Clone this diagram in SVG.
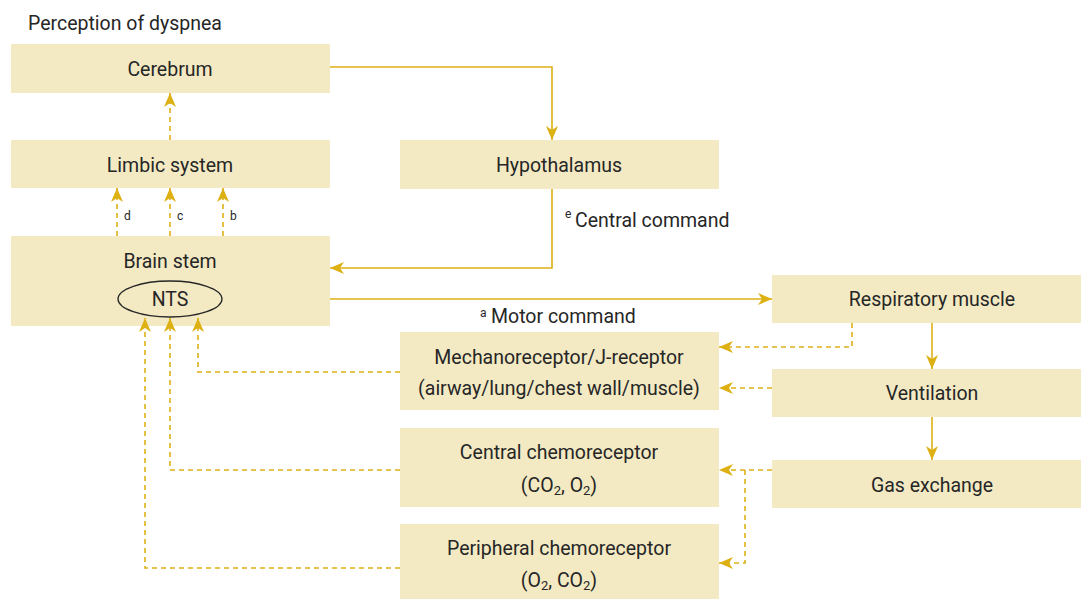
<svg xmlns="http://www.w3.org/2000/svg" width="1081" height="599" viewBox="0 0 1081 599">
<style>
.box{fill:#F3EAC4;}
.t{font-family:Roboto,"Liberation Sans",sans-serif;font-size:19.5px;fill:#262626;text-anchor:middle;}
.lab{font-family:Roboto,"Liberation Sans",sans-serif;font-size:19.5px;fill:#262626;}
.sup{font-family:Roboto,"Liberation Sans",sans-serif;font-size:12px;fill:#262626;}
.sm{font-family:Roboto,"Liberation Sans",sans-serif;font-size:12px;fill:#262626;}
.ln{fill:none;stroke:#DDB014;stroke-width:1.6;marker-end:url(#ah);}
.dl{fill:none;stroke:#DDB014;stroke-width:1.6;stroke-dasharray:5 4;marker-end:url(#ah);}
</style>
<defs>
<marker id="ah" markerUnits="userSpaceOnUse" viewBox="0 0 14 12" refX="14" refY="6" markerWidth="14" markerHeight="12" orient="auto">
<path d="M0,0 L14,6 L0,12 L4,6 Z" fill="#DDB014"/>
</marker>
</defs>
<text class="lab" x="28" y="30" font-size="18.2">Perception of dyspnea</text>
<g id="cerebrum"><rect class="box" x="11" y="44" width="319" height="49"/><text class="t" x="170" y="76">Cerebrum</text></g>
<g id="limbic"><rect class="box" x="11" y="140" width="319" height="48"/><text class="t" x="170" y="172">Limbic system</text></g>
<g id="brainstem"><rect class="box" x="11" y="236" width="319" height="90"/><text class="t" x="170" y="268">Brain stem</text>
<ellipse cx="170" cy="299" rx="52" ry="18" fill="none" stroke="#262626" stroke-width="1.3"/><text class="t" x="170" y="306">NTS</text></g>
<g id="hypothalamus"><rect class="box" x="400" y="140" width="319" height="49"/><text class="t" x="559" y="172">Hypothalamus</text></g>
<g id="mechano"><rect class="box" x="400" y="332" width="319" height="78"/><text class="t" x="559" y="364">Mechanoreceptor/J-receptor</text><text class="t" x="559" y="395">(airway/lung/chest wall/muscle)</text></g>
<g id="centralchemo"><rect class="box" x="400" y="428" width="319" height="79"/><text class="t" x="559" y="459">Central chemoreceptor</text><text class="t" x="559" y="492">(CO<tspan font-size="13" dy="3">2</tspan><tspan dy="-3">, O</tspan><tspan font-size="13" dy="3">2</tspan><tspan dy="-3">)</tspan></text></g>
<g id="periphchemo"><rect class="box" x="400" y="524" width="319" height="75"/><text class="t" x="559" y="555">Peripheral chemoreceptor</text><text class="t" x="559" y="587">(O<tspan font-size="13" dy="3">2</tspan><tspan dy="-3">, CO</tspan><tspan font-size="13" dy="3">2</tspan><tspan dy="-3">)</tspan></text></g>
<g id="respmuscle"><rect class="box" x="772" y="275" width="309" height="48"/><text class="t" x="932" y="306">Respiratory muscle</text></g>
<g id="ventilation"><rect class="box" x="772" y="369" width="309" height="48"/><text class="t" x="932" y="400">Ventilation</text></g>
<g id="gasexchange"><rect class="box" x="772" y="460" width="309" height="48"/><text class="t" x="932" y="492">Gas exchange</text></g>
<g id="connectors">
<path class="ln" d="M330,67 H552 V140"/>
<path class="ln" d="M552,189 V268 H330"/>
<path class="ln" d="M330,299 H772"/>
<path class="ln" d="M932,323 V369"/>
<path class="ln" d="M932,417 V460"/>
<path class="dl" d="M852,323 V347 H719"/>
<path class="dl" d="M772,388 H719"/>
<path class="dl" d="M772,470 H719"/>
<path class="dl" d="M745,470 V563 H719"/>
<path class="dl" d="M400,372 H198 V318"/>
<path class="dl" d="M400,470 H170 V318"/>
<path class="dl" d="M400,568 H145 V318"/>
<path class="dl" d="M117,236 V188"/>
<path class="dl" d="M170,236 V188"/>
<path class="dl" d="M223,236 V188"/>
<path class="dl" d="M170,140 V93"/>
<text class="sm" x="124" y="220">d</text>
<text class="sm" x="177" y="220">c</text>
<text class="sm" x="230" y="220">b</text>
<text class="sup" x="565" y="218">e</text>
<text class="lab" x="575" y="227">Central command</text>
<text class="sup" x="480" y="317">a</text>
<text class="lab" x="491" y="323">Motor command</text>
</g>
</svg>
